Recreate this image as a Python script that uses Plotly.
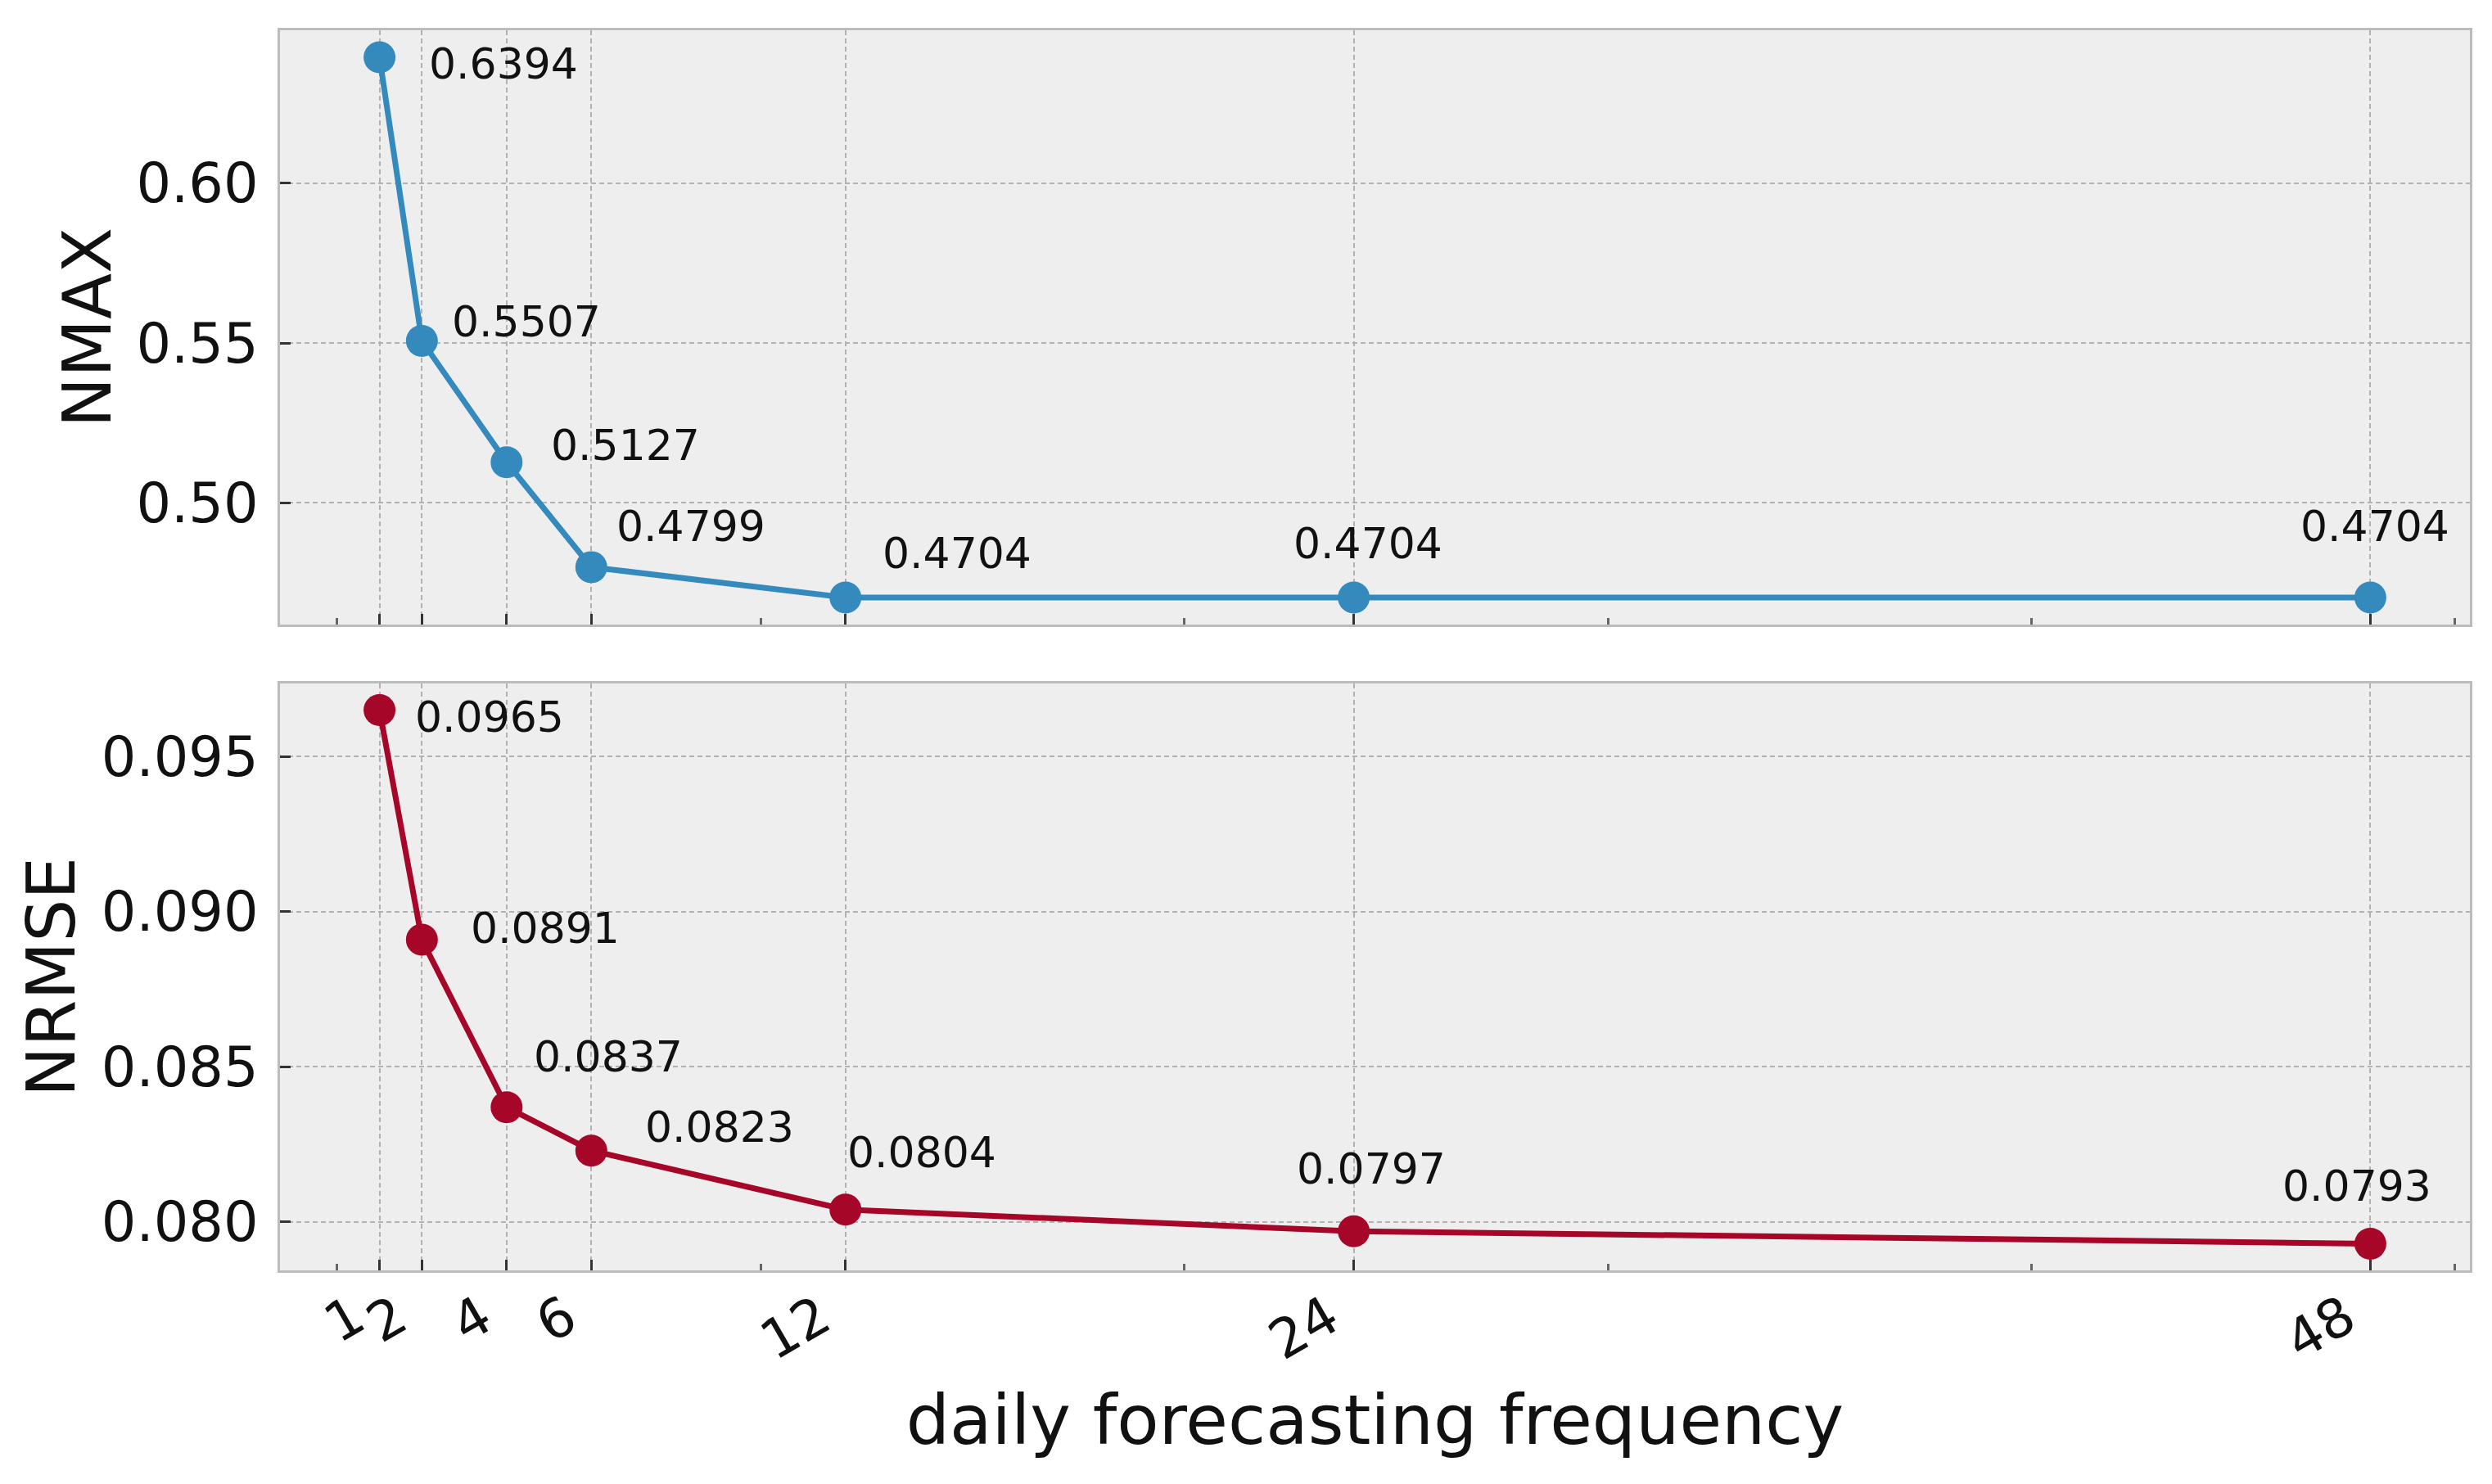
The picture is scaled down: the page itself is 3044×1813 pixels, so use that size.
import plotly.graph_objects as go

# ---- data ----
freq = [1, 2, 4, 6, 12, 24, 48]
nmax = [0.6394, 0.5507, 0.5127, 0.4799, 0.4704, 0.4704, 0.4704]
nrmse = [0.0965, 0.0891, 0.0837, 0.0823, 0.0804, 0.0797, 0.0793]
tick_labels = ["1", "2", "4", "6", "12", "24", "48"]
minor_ticks = [0, 10, 20, 30, 40, 50]
nmax_ticks = [0.50, 0.55, 0.60]
nrmse_ticks = [0.080, 0.085, 0.090, 0.095]

# ---- label offsets (px) ----
nmax_offsets = [(58, -8), (35, 23), (52, 21), (29, 50), (43, 54), (-76, 66), (-87, 87)]
nrmse_offsets = [(41, -8), (58, 14), (31, 62), (64, 29), (0, 70), (-72, 76), (-109, 70)]

BLUE = "#348ABD"
RED = "#A60628"
FONT = "DejaVu Sans"


def padded(vals, frac=0.05):
    lo, hi = min(vals), max(vals)
    d = (hi - lo) * frac
    return [lo - d, hi + d]


fig = go.Figure()
fig.add_trace(go.Scatter(x=freq, y=nmax, mode="lines+markers",
                         line=dict(color=BLUE, width=7),
                         marker=dict(color=BLUE, size=39),
                         xaxis="x", yaxis="y", showlegend=False))
fig.add_trace(go.Scatter(x=freq, y=nrmse, mode="lines+markers",
                         line=dict(color=RED, width=7),
                         marker=dict(color=RED, size=39),
                         xaxis="x2", yaxis="y2", showlegend=False))

annotations = []
for xv, yv, (dx, dy) in zip(freq, nmax, nmax_offsets):
    annotations.append(dict(x=xv, y=yv, xref="x", yref="y", text=f"{yv:.4f}",
                            showarrow=False, xanchor="left", yanchor="middle",
                            xshift=dx, yshift=dy,
                            font=dict(family=FONT, size=52, color="#111111")))
for xv, yv, (dx, dy) in zip(freq, nrmse, nrmse_offsets):
    annotations.append(dict(x=xv, y=yv, xref="x2", yref="y2", text=f"{yv:.4f}",
                            showarrow=False, xanchor="left", yanchor="middle",
                            xshift=dx, yshift=dy,
                            font=dict(family=FONT, size=52, color="#111111")))

common_x = dict(
    range=padded(freq), tickmode="array", tickvals=freq, ticktext=tick_labels,
    ticks="inside", ticklen=13, tickwidth=3, tickcolor="#333333",
    showgrid=True, gridcolor="#b2b2b2", griddash="6px,4px", gridwidth=2,
    showline=True, mirror=True, linecolor="#bcbcbc", linewidth=3,
    zeroline=False,
    minor=dict(tickmode="array", tickvals=minor_ticks, ticks="inside",
               ticklen=8, tickwidth=3, tickcolor="#666666", showgrid=False),
    tickfont=dict(family=FONT, size=66, color="#111111"),
)
common_y = dict(
    ticks="inside", ticklen=13, tickwidth=3, tickcolor="#333333",
    showgrid=True, gridcolor="#b2b2b2", griddash="6px,4px", gridwidth=2,
    showline=True, mirror=True, linecolor="#bcbcbc", linewidth=3,
    zeroline=False, ticklabelstandoff=10,
    tickfont=dict(family=FONT, size=67, color="#111111"),
)

fig.update_layout(
    width=3044, height=1813,
    margin=dict(l=342, r=27, t=37, b=261),
    paper_bgcolor="white", plot_bgcolor="#eeeeee",
    font=dict(family=FONT, color="#111111"),
    xaxis=dict(common_x, domain=[0, 1], anchor="y", showticklabels=False,
               matches="x2"),
    yaxis=dict(common_y, domain=[0.5208, 1.0], anchor="x",
               range=padded(nmax), tickmode="array", tickvals=nmax_ticks,
               ticktext=[f"{v:.2f}" for v in nmax_ticks],
               title=dict(text="NMAX", font=dict(family=FONT, size=82), standoff=4)),
    xaxis2=dict(common_x, domain=[0, 1], anchor="y2", tickangle=-30,
                ticklabelstandoff=-9, ticklabelshift=-30,
                title=dict(text="daily forecasting frequency",
                           font=dict(family=FONT, size=84), standoff=30)),
    yaxis2=dict(common_y, domain=[0, 0.4733], anchor="x2",
                range=padded(nrmse), tickmode="array", tickvals=nrmse_ticks,
                ticktext=[f"{v:.3f}" for v in nrmse_ticks],
                title=dict(text="NRMSE", font=dict(family=FONT, size=82), standoff=6)),
    annotations=annotations,
)

fig.write_html("out.html", config={"displayModeBar": False},
               post_script="document.body.style.margin='0';")
